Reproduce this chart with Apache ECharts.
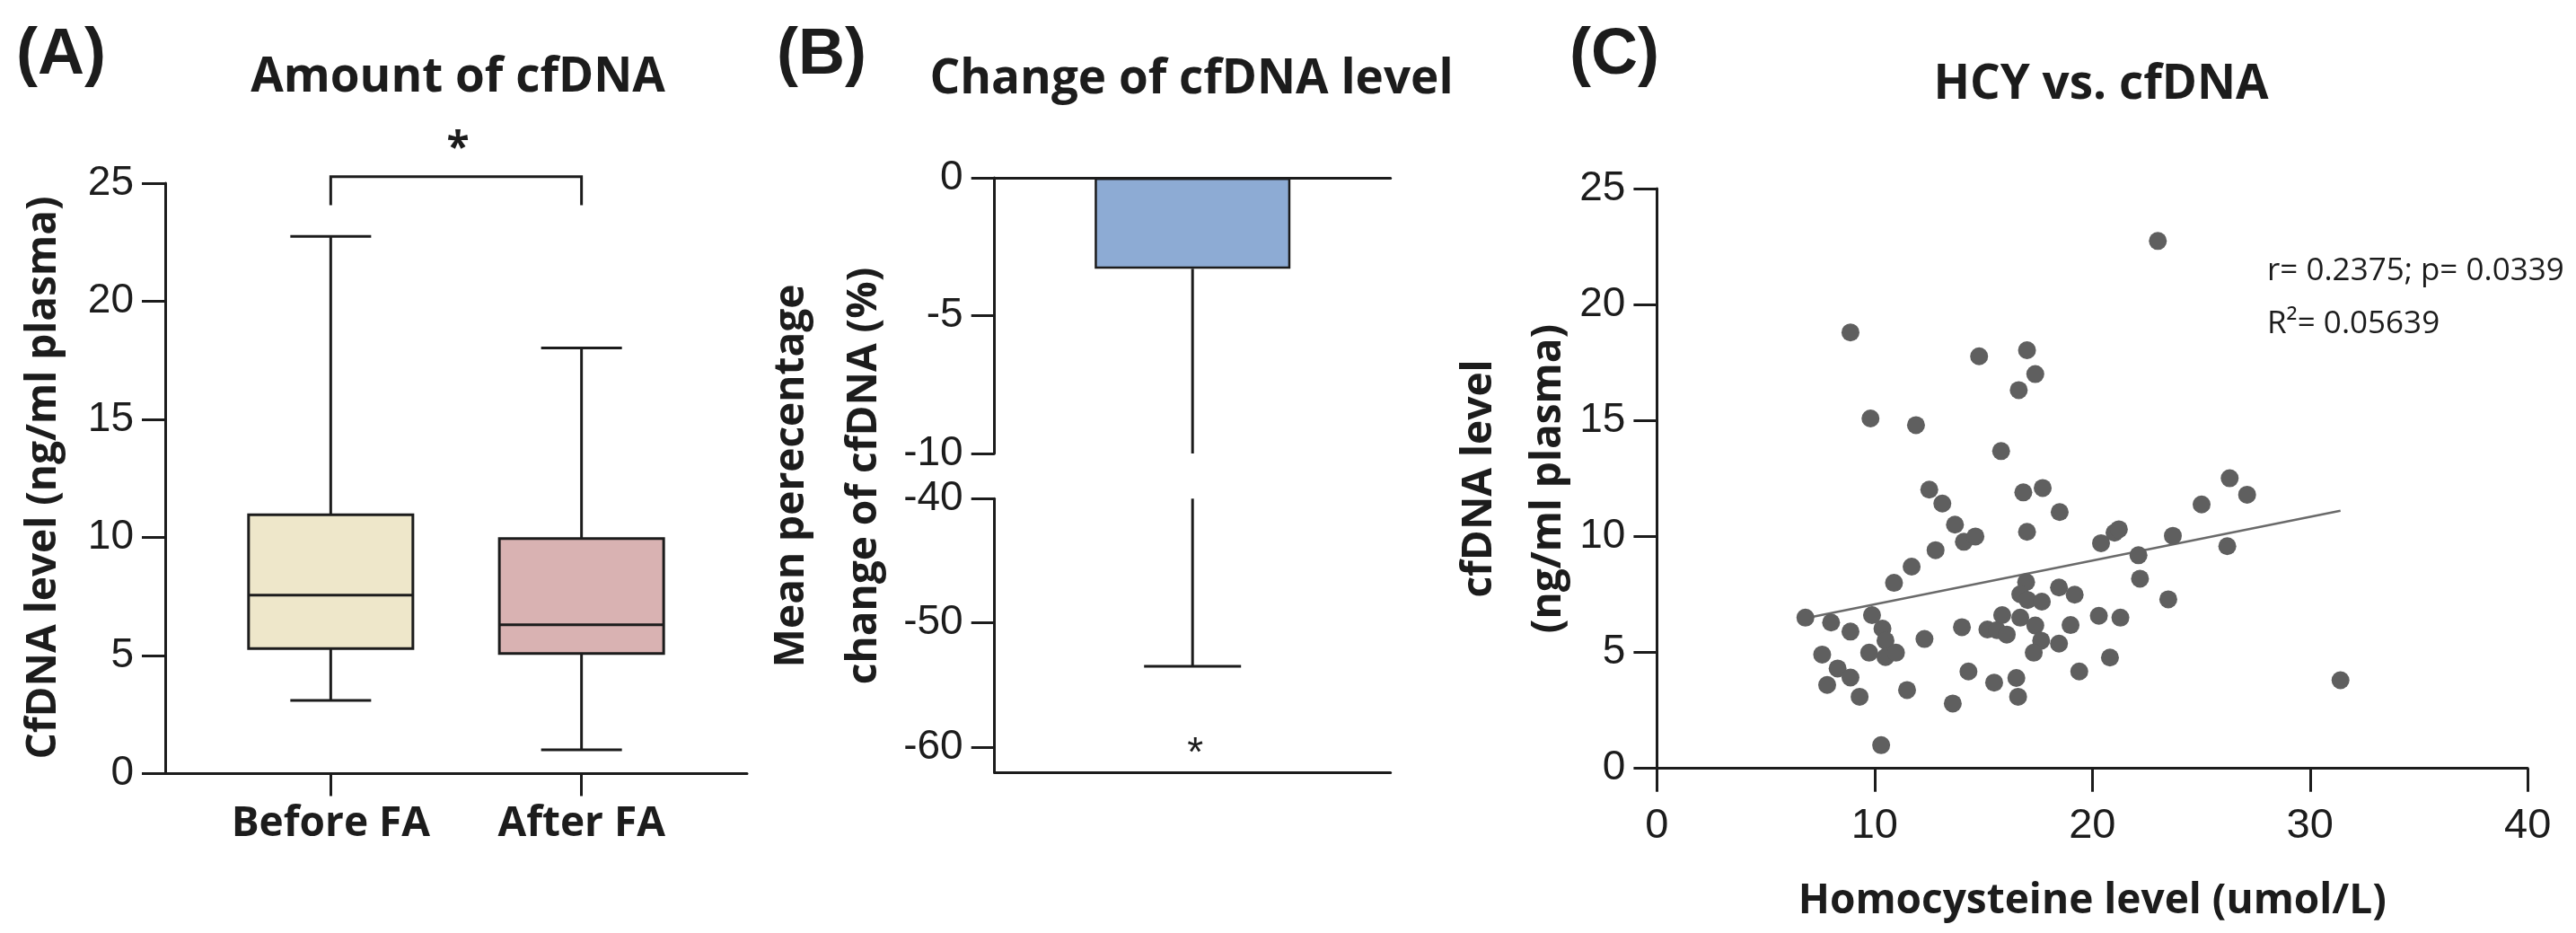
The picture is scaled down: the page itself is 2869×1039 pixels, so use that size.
<!DOCTYPE html>
<html>
<head>
<meta charset="utf-8">
<script src="https://cdn.jsdelivr.net/npm/echarts@6/dist/echarts.min.js"></script>
<style>
html,body{margin:0;padding:0;background:#fff;}
#chart{width:2869px;height:1039px;}
</style>
</head>
<body>
<div id="chart"></div>
<script>
// ---------- data ----------
const categories = ['Before FA', 'After FA'];
// min, Q1, median, Q3, max
const boxBefore = [3.10, 5.29, 7.56, 10.96, 22.75];
const boxAfter = [1.01, 5.09, 6.30, 9.95, 18.02];
const bracketLevels = [25.28, 24.07]; // top, leg end
const changeMean = [-3.30];
const changeErrLow = [-53.5];
const axisBreak = [-10, -40];
const hcyCfdna = [
  [23.01,22.74],[8.89,18.80],[14.80,17.77],[17.00,18.03],[17.38,17.00],[16.62,16.31],
  [9.81,15.09],[11.90,14.80],[15.81,13.68],[12.51,12.02],[13.11,11.42],[16.83,11.90],
  [17.72,12.09],[18.50,11.05],[26.31,12.51],[27.11,11.80],[25.02,11.38],
  [13.69,10.51],[14.10,9.77],[14.63,10.00],[17.00,10.20],[12.80,9.41],[11.70,8.70],
  [10.89,8.00],[18.47,7.80],[16.96,8.03],[16.69,7.51],[17.03,7.26],[17.68,7.19],
  [6.82,6.50],[8.00,6.29],[8.89,5.90],[9.88,6.61],[10.36,6.03],[10.50,5.51],
  [9.75,4.99],[10.50,4.80],[10.98,4.99],[7.59,4.91],[8.30,4.31],[8.89,3.92],
  [7.82,3.60],[9.31,3.09],[11.49,3.38],[12.29,5.58],[10.30,1.00],[14.01,6.09],
  [14.31,4.18],[13.59,2.80],[15.18,5.99],[15.62,5.96],[15.86,6.61],[16.07,5.77],
  [16.69,6.50],[17.38,6.16],[17.65,5.51],[17.31,4.99],[15.49,3.70],[16.51,3.90],
  [16.59,3.09],[18.47,5.38],[20.40,9.71],[21.02,10.16],[21.22,10.31],[23.70,10.03],
  [22.12,9.19],[26.20,9.58],[22.19,8.18],[23.49,7.29],[19.19,7.49],[20.30,6.58],
  [21.29,6.50],[19.00,6.18],[20.81,4.78],[19.40,4.18],[31.40,3.80]
];
const regLine = [[6.82, 6.47], [31.40, 11.11]];
const statsText = ['r= 0.2375; p= 0.0339', 'R\u00B2= 0.05639'];

// ---------- styles ----------
const INK = '#1c1c1c';
const LW = 3;
const boxColors = ['#EEE7CA', '#D9B2B2'];
const barColor = '#8DABD4';
const dotColor = '#5f5f5f';
const tickFont = {fontFamily: '"Liberation Sans", Arial, sans-serif', fontSize: 46, color: INK};
const boldFam = '"Open Sans", sans-serif';

const chart = echarts.init(document.getElementById('chart'), null, {renderer: 'canvas'});

function axisStyle(extra) {
  return Object.assign({
    axisLine: {show: true, onZero: false, lineStyle: {color: INK, width: LW}},
    axisTick: {show: true, length: 26, lineStyle: {color: INK, width: LW}},
    axisLabel: Object.assign({margin: 35}, tickFont),
    splitLine: {show: false}
  }, extra);
}

function line(x1, y1, x2, y2) {
  return {type: 'line', shape: {x1, y1, x2, y2}, style: {stroke: INK, lineWidth: LW}};
}

function gtext(text, x, y, font, opts) {
  opts = opts || {};
  return {
    type: 'text', x: x, y: y, rotation: opts.rotation || 0,
    style: {
      text: text, font: font, fill: INK,
      textAlign: opts.align || 'center', align: opts.align || 'center',
      textVerticalAlign: 'middle', verticalAlign: 'middle',
      lineHeight: opts.lineHeight
    }
  };
}

const option = {
  animation: false,
  backgroundColor: '#ffffff',
  grid: [
    {left: 184, top: 204, width: 648, height: 657.5},
    {left: 1107.7, top: 198, width: 441, height: 307},
    {left: 1107.7, top: 555.3, width: 441, height: 305},
    {left: 1845.4, top: 210, width: 969.8, height: 645.7}
  ],
  xAxis: [
    axisStyle({
      type: 'value', gridIndex: 0, min: 0.34, max: 2.66,
      axisTick: {show: true, length: 25, customValues: [1, 2], lineStyle: {color: INK, width: LW}},
      axisLabel: {customValues: [1, 2], margin: 33, fontFamily: boldFam, fontWeight: 'bold', fontSize: 46, color: INK,
        formatter: v => categories[Math.round(v) - 1]}
    }),
    axisStyle({type: 'category', gridIndex: 1, data: [''], position: 'top',
      axisTick: {show: false}, axisLabel: {show: false}}),
    axisStyle({type: 'category', gridIndex: 2, data: [''], position: 'bottom',
      axisTick: {show: false}, axisLabel: {show: false}}),
    axisStyle({type: 'value', gridIndex: 3, min: 0, max: 40, interval: 10,
      axisLabel: Object.assign({margin: 41}, tickFont, {fontSize: 47}),
      name: 'Homocysteine level (umol/L)', nameLocation: 'middle', nameGap: 125,
      nameTextStyle: {fontFamily: boldFam, fontWeight: 'bold', fontSize: 46, color: INK}})
  ],
  yAxis: [
    axisStyle({type: 'value', gridIndex: 0, min: 0, max: 25, interval: 5}),
    axisStyle({type: 'value', gridIndex: 1, min: axisBreak[0], max: 0, interval: 5}),
    axisStyle({type: 'value', gridIndex: 2, min: -62.06, max: axisBreak[1],
      axisTick: {show: true, length: 26, customValues: [-60, -50, -40], lineStyle: {color: INK, width: LW}},
      axisLabel: Object.assign({margin: 35, customValues: [-60, -50, -40]}, tickFont)}),
    axisStyle({type: 'value', gridIndex: 3, min: 0, max: 25, interval: 5})
  ],
  series: [
    {
      type: 'custom', xAxisIndex: 0, yAxisIndex: 0, clip: false,
      data: [[1].concat(boxBefore), [2].concat(boxAfter)],
      renderItem: function (params, api) {
        const x = api.value(0);
        const pMin = api.coord([x, api.value(1)]);
        const pQ1 = api.coord([x, api.value(2)]);
        const pMed = api.coord([x, api.value(3)]);
        const pQ3 = api.coord([x, api.value(4)]);
        const pMax = api.coord([x, api.value(5)]);
        const cx = pMed[0], half = 91.5, cap = 45;
        return {type: 'group', children: [
          line(cx, pQ3[1], cx, pMax[1]),
          line(cx, pQ1[1], cx, pMin[1]),
          line(cx - cap, pMax[1], cx + cap, pMax[1]),
          line(cx - cap, pMin[1], cx + cap, pMin[1]),
          {type: 'rect', shape: {x: cx - half, y: pQ3[1], width: 2 * half, height: pQ1[1] - pQ3[1]},
            style: {fill: boxColors[params.dataIndex], stroke: INK, lineWidth: LW}},
          line(cx - half, pMed[1], cx + half, pMed[1])
        ]};
      }
    },
    {
      type: 'custom', xAxisIndex: 0, yAxisIndex: 0, clip: false,
      data: [[1, 2, bracketLevels[0], bracketLevels[1]]],
      renderItem: function (params, api) {
        const a = api.coord([api.value(0), api.value(2)]);
        const b = api.coord([api.value(1), api.value(2)]);
        const aL = api.coord([api.value(0), api.value(3)]);
        const bL = api.coord([api.value(1), api.value(3)]);
        return {type: 'group', children: [
          {type: 'polyline', shape: {points: [[aL[0], aL[1]], [a[0], a[1]], [b[0], b[1]], [bL[0], bL[1]]]},
            style: {stroke: INK, lineWidth: LW, fill: null}},
          {type: 'text', x: (a[0] + b[0]) / 2 + 2, y: a[1] - 30,
            style: {text: '*', font: 'bold 46px ' + boldFam, fill: INK, align: 'center', verticalAlign: 'middle',
              textAlign: 'center', textVerticalAlign: 'middle'}}
        ]};
      }
    },
    {
      type: 'bar', xAxisIndex: 1, yAxisIndex: 1, data: changeMean, barWidth: 218,
      itemStyle: {color: barColor, borderColor: INK, borderWidth: 2.5}, z: 3
    },
    {
      type: 'custom', xAxisIndex: 1, yAxisIndex: 1, clip: false,
      data: [[0, changeMean[0], axisBreak[0]]],
      renderItem: function (params, api) {
        const p1 = api.coord([api.value(0), api.value(1)]);
        const p2 = api.coord([api.value(0), api.value(2)]);
        return line(p1[0], p1[1], p2[0], p2[1]);
      }
    },
    {
      type: 'custom', xAxisIndex: 2, yAxisIndex: 2, clip: false,
      data: [[0, axisBreak[1], changeErrLow[0]]],
      renderItem: function (params, api) {
        const p1 = api.coord([api.value(0), api.value(1)]);
        const p2 = api.coord([api.value(0), api.value(2)]);
        const star = api.coord([api.value(0), -60]);
        return {type: 'group', children: [
          line(p1[0], p1[1], p2[0], p2[1]),
          line(p2[0] - 54, p2[1], p2[0] + 54, p2[1]),
          {type: 'text', x: star[0] + 3, y: star[1] + 8,
            style: {text: '*', font: '46px "Liberation Sans", Arial', fill: INK, align: 'center', verticalAlign: 'middle',
              textAlign: 'center', textVerticalAlign: 'middle'}}
        ]};
      }
    },
    {
      type: 'line', xAxisIndex: 3, yAxisIndex: 3, data: regLine, showSymbol: false, symbol: 'none',
      lineStyle: {color: '#6a6a6a', width: 2.5}, z: 1
    },
    {
      type: 'scatter', xAxisIndex: 3, yAxisIndex: 3, data: hcyCfdna, symbolSize: 20,
      itemStyle: {color: dotColor, opacity: 1}, z: 2
    }
  ],
  graphic: [
    gtext('(A)', 68, 62, 'bold 72px "Liberation Sans", Arial'),
    gtext('(B)', 915, 62, 'bold 72px "Liberation Sans", Arial'),
    gtext('(C)', 1798, 62, 'bold 72px "Liberation Sans", Arial'),
    gtext('Amount of cfDNA', 510, 87, 'bold 53px ' + boldFam),
    gtext('Change of cfDNA level', 1327, 89, 'bold 53px ' + boldFam),
    gtext('HCY vs. cfDNA', 2340, 95, 'bold 53px ' + boldFam),
    gtext('CfDNA level (ng/ml plasma)', 49, 532, 'bold 46px ' + boldFam, {rotation: Math.PI / 2}),
    gtext('Mean perecentage\nchange of cfDNA (%)', 922, 530, 'bold 46px ' + boldFam, {rotation: Math.PI / 2, lineHeight: 81}),
    gtext('cfDNA level\n(ng/ml plasma)', 1686, 533, 'bold 46px ' + boldFam, {rotation: Math.PI / 2, lineHeight: 77}),
    gtext(statsText[0], 2525, 302, '35px "Open Sans", sans-serif', {align: 'left'}),
    gtext(statsText[1], 2525, 361, '35px "Open Sans", sans-serif', {align: 'left'})
  ]
};
chart.setOption(option);
</script>
</body>
</html>
